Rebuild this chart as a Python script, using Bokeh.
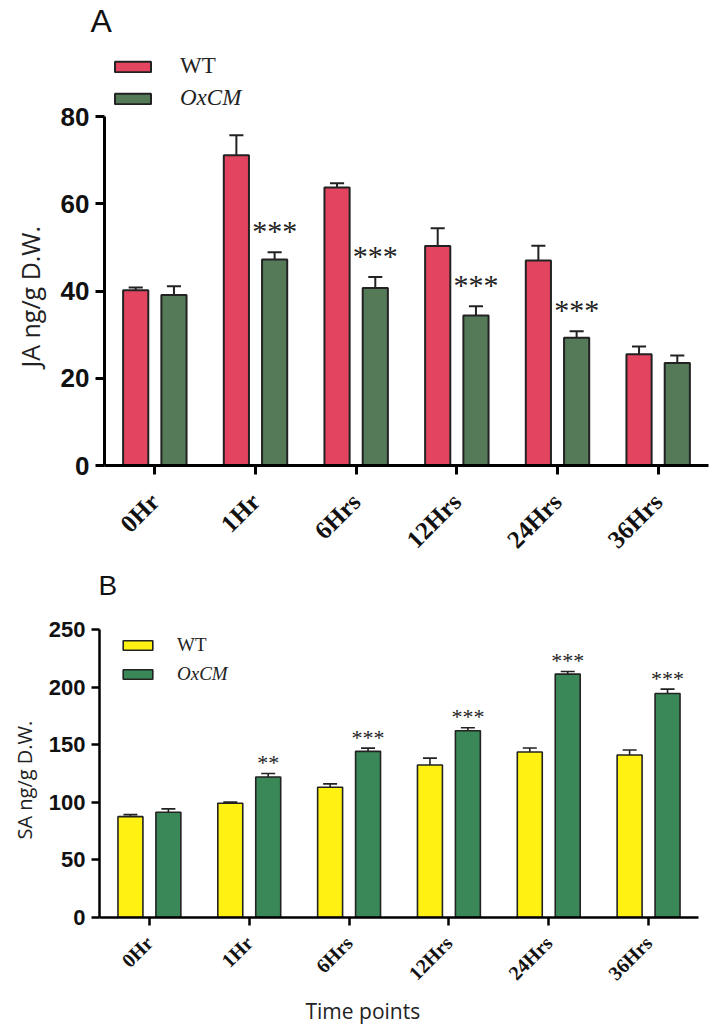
import math
import numpy as np
from bokeh.plotting import figure
from bokeh.models import FixedTicker, Legend, LegendItem, Range1d, Title
from bokeh.embed import file_html
from bokeh.resources import INLINE

# ---------------- data ----------------
time_points = ["0Hr", "1Hr", "6Hrs", "12Hrs", "24Hrs", "36Hrs"]

ja_wt = [40.2, 71.1, 63.7, 50.3, 47.0, 25.5]
ja_wt_err = [0.6, 4.6, 1.0, 4.1, 3.4, 1.8]
ja_ox = [39.1, 47.2, 40.7, 34.4, 29.3, 23.5]
ja_ox_err = [2.0, 1.7, 2.5, 2.1, 1.5, 1.7]
ja_sig = ["", "***", "***", "***", "***", ""]
ja_ticks = [0, 20, 40, 60, 80]

sa_wt = [87.5, 99.1, 113.0, 132.3, 143.6, 141.0]
sa_wt_err = [1.8, 1.0, 3.0, 6.0, 3.5, 4.4]
sa_ox = [91.3, 121.9, 144.2, 162.0, 211.2, 194.4]
sa_ox_err = [3.0, 3.0, 2.8, 2.6, 2.3, 3.8]
sa_sig = ["", "**", "***", "***", "***", "***"]
sa_ticks = [0, 50, 100, 150, 200, 250]


def make_panel(wt, wt_err, ox, ox_err, sig, ticks, ylabel, letter, colors, cfg):
    frame_h = cfg["height"] - cfg["top"] - cfg["bottom"]
    # the frame reaches above the last tick so that the legend fits inside it
    y_end = ticks[-1] * frame_h / cfg["axis_px"]
    p = figure(width=712, height=cfg["height"],
               x_range=Range1d(-0.5, 5.5), y_range=Range1d(0, y_end),
               output_backend="svg", toolbar_location=None,
               min_border_left=cfg["left"], min_border_right=cfg["right"],
               min_border_top=cfg["top"], min_border_bottom=cfg["bottom"])
    p.xgrid.visible = False
    p.ygrid.visible = False
    p.outline_line_color = None

    idx = np.arange(len(time_points))
    off = 0.19
    bw = 0.25
    cap = 0.07
    x_wt = idx - off
    x_ox = idx + off
    wt = np.array(wt); ox = np.array(ox)
    wte = np.array(wt_err); oxe = np.array(ox_err)
    lc = "#222222"
    lw = cfg["barlw"]

    for xs, v, e in ((x_wt, wt, wte), (x_ox, ox, oxe)):
        p.segment(x0=xs, y0=v, x1=xs, y1=v + e, line_color=lc, line_width=lw)
        p.segment(x0=xs - cap, y0=v + e, x1=xs + cap, y1=v + e, line_color=lc, line_width=lw)

    r1 = p.vbar(x=x_wt, top=wt, bottom=0, width=bw, fill_color=colors[0],
                line_color=lc, line_width=lw)
    r2 = p.vbar(x=x_ox, top=ox, bottom=0, width=bw, fill_color=colors[1],
                line_color=lc, line_width=lw)

    p.text(x=x_ox, y=ox + oxe, text=sig, text_align="center",
           text_baseline="alphabetic", y_offset=cfg["star_off"],
           text_font_size=cfg["star_size"], text_font="Liberation Sans",
           text_color="#222222")

    for ax in (p.xaxis[0], p.yaxis[0]):
        ax.axis_line_width = cfg["axlw"]
        ax.axis_line_color = "black"
        ax.major_tick_line_width = cfg["axlw"]
        ax.major_tick_line_color = "black"
        ax.major_tick_out = cfg["tick"]
        ax.major_tick_in = 0
        ax.minor_tick_line_color = None

    p.xaxis.ticker = FixedTicker(ticks=list(range(len(time_points))))
    p.xaxis.major_label_overrides = {i: t for i, t in enumerate(time_points)}
    p.xaxis.major_label_orientation = math.pi / 4
    p.xaxis.major_label_text_font = "Liberation Serif"
    p.xaxis.major_label_text_font_style = "bold"
    p.xaxis.major_label_text_font_size = cfg["xlab_size"]
    p.xaxis.major_label_text_color = "#111111"
    p.xaxis.major_label_standoff = cfg["xlab_standoff"]

    p.yaxis.bounds = (ticks[0], ticks[-1])
    p.yaxis.ticker = FixedTicker(ticks=ticks)
    p.yaxis.major_label_text_font = "Liberation Sans"
    p.yaxis.major_label_text_font_style = "bold"
    p.yaxis.major_label_text_font_size = cfg["ylab_size"]
    p.yaxis.major_label_text_color = "#111111"
    p.yaxis.major_label_standoff = cfg["ylab_standoff"]

    # y-axis title placed along the axis extent (the frame is taller)
    p.add_layout(Title(text=ylabel, align="left", offset=cfg["ylabel_offset"],
                       standoff=cfg["ylabel_standoff"], text_font="Open Sans",
                       text_font_style="normal", text_font_size=cfg["axlab_size"],
                       text_color="#222222"), "left")

    for item_label, rend, style, loc in (("WT", r1, "normal", cfg["leg1"]),
                                         ("OxCM", r2, "italic", cfg["leg2"])):
        leg = Legend(items=[LegendItem(label=item_label, renderers=[rend])],
                     location=loc, orientation="vertical",
                     glyph_width=cfg["gw"], glyph_height=cfg["gh"],
                     label_standoff=cfg["lstand"], label_height=cfg["gh"],
                     padding=0, margin=0, spacing=0,
                     border_line_color=None, background_fill_alpha=0,
                     label_text_font="Liberation Serif",
                     label_text_font_style=style,
                     label_text_font_size=cfg["leg_size"],
                     label_text_color="#222222")
        p.add_layout(leg)

    p.title.text = letter
    p.title.align = "left"
    p.title.offset = cfg["letter_dx"]
    p.title.standoff = 0
    p.title.text_font = "Liberation Sans"
    p.title.text_font_style = "normal"
    p.title.text_font_size = cfg["letter_size"]
    p.title.text_color = "#111111"
    return p


cfg_top = dict(height=566, left=104, right=4, top=38, bottom=101, axis_px=349,
               barlw=2, star_off=-22, star_size="30px", axlw=3, tick=9,
               xlab_size="25px", xlab_standoff=23, ylab_size="26px",
               ylab_standoff=6, axlab_size="25px", ylabel_standoff=21,
               ylabel_offset=98,
               leg1=(6, 386), leg2=(6, 354), gw=45, gh=13, lstand=25,
               leg_size="23px", letter_dx=-14, letter_size="32px")

cfg_bot = dict(height=458, left=94, right=14, top=34, bottom=106, axis_px=289,
               barlw=1.6, star_off=-11, star_size="22px", axlw=2.5, tick=8,
               xlab_size="20px", xlab_standoff=14, ylab_size="22px",
               ylab_standoff=6, axlab_size="20px", ylabel_standoff=16,
               ylabel_offset=78,
               leg1=(20, 261), leg2=(20, 232), gw=37, gh=12, lstand=21,
               leg_size="19px", letter_dx=-1, letter_size="28px")

p1 = make_panel(ja_wt, ja_wt_err, ja_ox, ja_ox_err, ja_sig, ja_ticks,
                "JA ng/g D.W.", "A", ("#E3445F", "#557A58"), cfg_top)
p2 = make_panel(sa_wt, sa_wt_err, sa_ox, sa_ox_err, sa_sig, sa_ticks,
                "SA ng/g D.W.", "B", ("#FFF212", "#3A8757"), cfg_bot)
p2.add_layout(Title(text="Time points", align="left", offset=206, standoff=0,
                    text_font="Open Sans", text_font_style="normal",
                    text_font_size="21px", text_color="#222222"), "below")

open("out.html", "w").write(file_html([p1, p2], INLINE))
